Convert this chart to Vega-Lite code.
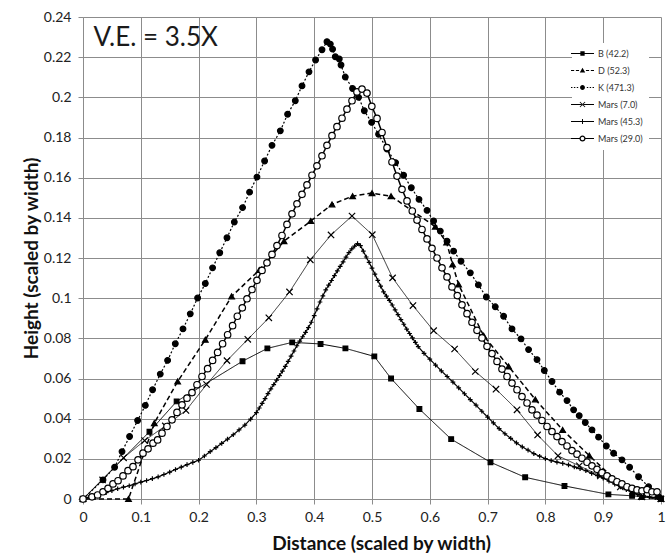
{
 "$schema": "https://vega.github.io/schema/vega-lite/v6.json",
 "width": 578, "height": 482,
 "autosize": {"type": "none"},
 "padding": {"left": 83, "top": 17, "right": 11, "bottom": 60},
 "background": "white",
 "config": {"view": {"stroke": null}, "font": "Lato"},
 "datasets": {
  "note": [{"x": 0.018, "y": 0.2255, "label": "V.E. = 3.5X"}],
  "leg": [{"series": "B (42.2)"}, {"series": "D (52.3)"}, {"series": "K (471.3)"}, {"series": "Mars (7.0)"}, {"series": "Mars (45.3)"}, {"series": "Mars (29.0)"}],
  "pts": [
   {"series":"B (42.2)","x":0,"y":0},{"series":"B (42.2)","x":0.115,"y":0.0335},{"series":"B (42.2)","x":0.162,"y":0.0486},{"series":"B (42.2)","x":0.276,"y":0.0686},{"series":"B (42.2)","x":0.319,"y":0.075},{"series":"B (42.2)","x":0.362,"y":0.078},{"series":"B (42.2)","x":0.411,"y":0.0772},{"series":"B (42.2)","x":0.454,"y":0.075},{"series":"B (42.2)","x":0.504,"y":0.071},{"series":"B (42.2)","x":0.533,"y":0.06},{"series":"B (42.2)","x":0.582,"y":0.0448},{"series":"B (42.2)","x":0.637,"y":0.0298},{"series":"B (42.2)","x":0.705,"y":0.0183},{"series":"B (42.2)","x":0.765,"y":0.0108},{"series":"B (42.2)","x":0.833,"y":0.0065},{"series":"B (42.2)","x":0.909,"y":0.0023},{"series":"B (42.2)","x":0.95,"y":0.0016},{"series":"B (42.2)","x":1,"y":0.0003},
   {"series":"D (52.3)","x":0,"y":0},{"series":"D (52.3)","x":0.0787,"y":0},{"series":"D (52.3)","x":0.1234,"y":0.0378},{"series":"D (52.3)","x":0.1637,"y":0.0585},{"series":"D (52.3)","x":0.2116,"y":0.0793},{"series":"D (52.3)","x":0.2571,"y":0.1009},{"series":"D (52.3)","x":0.305,"y":0.114},{"series":"D (52.3)","x":0.3478,"y":0.1284},{"series":"D (52.3)","x":0.3941,"y":0.1384},{"series":"D (52.3)","x":0.4308,"y":0.1467},{"series":"D (52.3)","x":0.4664,"y":0.1508},{"series":"D (52.3)","x":0.5,"y":0.1523},{"series":"D (52.3)","x":0.5329,"y":0.1508},{"series":"D (52.3)","x":0.6095,"y":0.1356},{"series":"D (52.3)","x":0.6291,"y":0.1277},{"series":"D (52.3)","x":0.6394,"y":0.1168},{"series":"D (52.3)","x":0.6498,"y":0.1068},{"series":"D (52.3)","x":0.6931,"y":0.0813},{"series":"D (52.3)","x":0.7363,"y":0.066},{"series":"D (52.3)","x":0.7825,"y":0.0496},{"series":"D (52.3)","x":0.8298,"y":0.0344},{"series":"D (52.3)","x":0.876,"y":0.0216},{"series":"D (52.3)","x":0.923,"y":0.009},{"series":"D (52.3)","x":0.966,"y":0.001},{"series":"D (52.3)","x":1,"y":0},
   {"series":"K (471.3)","x":0,"y":0},{"series":"K (471.3)","x":0.0346,"y":0.0095},{"series":"K (471.3)","x":0.0547,"y":0.0158},{"series":"K (471.3)","x":0.0675,"y":0.0236},{"series":"K (471.3)","x":0.0806,"y":0.0311},{"series":"K (471.3)","x":0.0945,"y":0.0391},{"series":"K (471.3)","x":0.1078,"y":0.0466},{"series":"K (471.3)","x":0.1204,"y":0.0544},{"series":"K (471.3)","x":0.1337,"y":0.0622},{"series":"K (471.3)","x":0.1464,"y":0.069},{"series":"K (471.3)","x":0.1597,"y":0.0773},{"series":"K (471.3)","x":0.173,"y":0.0847},{"series":"K (471.3)","x":0.1856,"y":0.0922},{"series":"K (471.3)","x":0.1983,"y":0.1001},{"series":"K (471.3)","x":0.2116,"y":0.1073},{"series":"K (471.3)","x":0.2242,"y":0.1151},{"series":"K (471.3)","x":0.2366,"y":0.1226},{"series":"K (471.3)","x":0.2491,"y":0.1301},{"series":"K (471.3)","x":0.2618,"y":0.1379},{"series":"K (471.3)","x":0.2761,"y":0.1451},{"series":"K (471.3)","x":0.2882,"y":0.1528},{"series":"K (471.3)","x":0.301,"y":0.1603},{"series":"K (471.3)","x":0.3142,"y":0.1683},{"series":"K (471.3)","x":0.327,"y":0.1761},{"series":"K (471.3)","x":0.3414,"y":0.1833},{"series":"K (471.3)","x":0.354,"y":0.1916},{"series":"K (471.3)","x":0.3673,"y":0.1983},{"series":"K (471.3)","x":0.3789,"y":0.2057},{"series":"K (471.3)","x":0.391,"y":0.2127},{"series":"K (471.3)","x":0.4024,"y":0.2186},{"series":"K (471.3)","x":0.4135,"y":0.2237},{"series":"K (471.3)","x":0.4221,"y":0.2277},{"series":"K (471.3)","x":0.4279,"y":0.2265},{"series":"K (471.3)","x":0.4318,"y":0.224},{"series":"K (471.3)","x":0.4365,"y":0.2202},{"series":"K (471.3)","x":0.4434,"y":0.2191},{"series":"K (471.3)","x":0.4464,"y":0.2161},{"series":"K (471.3)","x":0.4538,"y":0.2101},{"series":"K (471.3)","x":0.4664,"y":0.2044},{"series":"K (471.3)","x":0.4768,"y":0.2},{"series":"K (471.3)","x":0.4867,"y":0.1933},{"series":"K (471.3)","x":0.4993,"y":0.1875},{"series":"K (471.3)","x":0.5114,"y":0.1816},{"series":"K (471.3)","x":0.526,"y":0.1742},{"series":"K (471.3)","x":0.5408,"y":0.1675},{"series":"K (471.3)","x":0.5547,"y":0.1612},{"series":"K (471.3)","x":0.568,"y":0.155},{"series":"K (471.3)","x":0.5813,"y":0.1492},{"series":"K (471.3)","x":0.5952,"y":0.1437},{"series":"K (471.3)","x":0.6066,"y":0.1384},{"series":"K (471.3)","x":0.6182,"y":0.1334},{"series":"K (471.3)","x":0.6298,"y":0.1284},{"series":"K (471.3)","x":0.6412,"y":0.1234},{"series":"K (471.3)","x":0.654,"y":0.1184},{"series":"K (471.3)","x":0.6701,"y":0.1126},{"series":"K (471.3)","x":0.684,"y":0.1066},{"series":"K (471.3)","x":0.6978,"y":0.1006},{"series":"K (471.3)","x":0.7133,"y":0.0957},{"series":"K (471.3)","x":0.7277,"y":0.091},{"series":"K (471.3)","x":0.7422,"y":0.0847},{"series":"K (471.3)","x":0.7578,"y":0.0797},{"series":"K (471.3)","x":0.7709,"y":0.0744},{"series":"K (471.3)","x":0.7855,"y":0.0694},{"series":"K (471.3)","x":0.7981,"y":0.064},{"series":"K (471.3)","x":0.8114,"y":0.0585},{"series":"K (471.3)","x":0.8246,"y":0.0532},{"series":"K (471.3)","x":0.8374,"y":0.049},{"series":"K (471.3)","x":0.8488,"y":0.0444},{"series":"K (471.3)","x":0.8585,"y":0.0415},{"series":"K (471.3)","x":0.869,"y":0.0381},{"series":"K (471.3)","x":0.8806,"y":0.0344},{"series":"K (471.3)","x":0.892,"y":0.0308},{"series":"K (471.3)","x":0.9054,"y":0.0264},{"series":"K (471.3)","x":0.918,"y":0.0228},{"series":"K (471.3)","x":0.9325,"y":0.0195},{"series":"K (471.3)","x":0.9457,"y":0.0158},{"series":"K (471.3)","x":0.9612,"y":0.0111},{"series":"K (471.3)","x":0.9785,"y":0.0061},{"series":"K (471.3)","x":0.9958,"y":0.0011},
   {"series":"Mars (7.0)","x":0,"y":0},{"series":"Mars (7.0)","x":0.0339,"y":0.0095},{"series":"Mars (7.0)","x":0.0702,"y":0.0205},{"series":"Mars (7.0)","x":0.1066,"y":0.0291},{"series":"Mars (7.0)","x":0.1424,"y":0.0364},{"series":"Mars (7.0)","x":0.1782,"y":0.0441},{"series":"Mars (7.0)","x":0.2138,"y":0.057},{"series":"Mars (7.0)","x":0.2491,"y":0.0689},{"series":"Mars (7.0)","x":0.2851,"y":0.0795},{"series":"Mars (7.0)","x":0.3215,"y":0.0902},{"series":"Mars (7.0)","x":0.3573,"y":0.1031},{"series":"Mars (7.0)","x":0.3933,"y":0.1191},{"series":"Mars (7.0)","x":0.4291,"y":0.1315},{"series":"Mars (7.0)","x":0.4654,"y":0.1409},{"series":"Mars (7.0)","x":0.5005,"y":0.1316},{"series":"Mars (7.0)","x":0.5356,"y":0.1101},{"series":"Mars (7.0)","x":0.5709,"y":0.0963},{"series":"Mars (7.0)","x":0.6066,"y":0.0838},{"series":"Mars (7.0)","x":0.6429,"y":0.0747},{"series":"Mars (7.0)","x":0.6787,"y":0.0635},{"series":"Mars (7.0)","x":0.7145,"y":0.0547},{"series":"Mars (7.0)","x":0.7509,"y":0.0444},{"series":"Mars (7.0)","x":0.7865,"y":0.0319},{"series":"Mars (7.0)","x":0.8218,"y":0.0215},{"series":"Mars (7.0)","x":0.8587,"y":0.0165},{"series":"Mars (7.0)","x":0.895,"y":0.0115},{"series":"Mars (7.0)","x":0.9296,"y":0.006},{"series":"Mars (7.0)","x":0.9671,"y":0.0011},{"series":"Mars (7.0)","x":1,"y":0},
   {"series":"Mars (45.3)","x":0,"y":0},{"series":"Mars (45.3)","x":0.01,"y":0.0008},{"series":"Mars (45.3)","x":0.02,"y":0.0015},{"series":"Mars (45.3)","x":0.03,"y":0.0023},{"series":"Mars (45.3)","x":0.04,"y":0.0032},{"series":"Mars (45.3)","x":0.05,"y":0.0042},{"series":"Mars (45.3)","x":0.06,"y":0.0051},{"series":"Mars (45.3)","x":0.07,"y":0.0059},{"series":"Mars (45.3)","x":0.08,"y":0.0066},{"series":"Mars (45.3)","x":0.09,"y":0.0075},{"series":"Mars (45.3)","x":0.1,"y":0.0084},{"series":"Mars (45.3)","x":0.11,"y":0.0092},{"series":"Mars (45.3)","x":0.12,"y":0.0101},{"series":"Mars (45.3)","x":0.13,"y":0.011},{"series":"Mars (45.3)","x":0.14,"y":0.0122},{"series":"Mars (45.3)","x":0.15,"y":0.0134},{"series":"Mars (45.3)","x":0.16,"y":0.0147},{"series":"Mars (45.3)","x":0.17,"y":0.0159},{"series":"Mars (45.3)","x":0.18,"y":0.0171},{"series":"Mars (45.3)","x":0.19,"y":0.0182},{"series":"Mars (45.3)","x":0.2,"y":0.0193},{"series":"Mars (45.3)","x":0.21,"y":0.0214},{"series":"Mars (45.3)","x":0.22,"y":0.0236},{"series":"Mars (45.3)","x":0.23,"y":0.0256},{"series":"Mars (45.3)","x":0.24,"y":0.0277},{"series":"Mars (45.3)","x":0.25,"y":0.0298},{"series":"Mars (45.3)","x":0.26,"y":0.032},{"series":"Mars (45.3)","x":0.27,"y":0.0344},{"series":"Mars (45.3)","x":0.28,"y":0.0368},{"series":"Mars (45.3)","x":0.29,"y":0.0398},{"series":"Mars (45.3)","x":0.3,"y":0.043},{"series":"Mars (45.3)","x":0.305,"y":0.0453},{"series":"Mars (45.3)","x":0.31,"y":0.0476},{"series":"Mars (45.3)","x":0.315,"y":0.05},{"series":"Mars (45.3)","x":0.32,"y":0.0525},{"series":"Mars (45.3)","x":0.325,"y":0.0548},{"series":"Mars (45.3)","x":0.33,"y":0.057},{"series":"Mars (45.3)","x":0.335,"y":0.0592},{"series":"Mars (45.3)","x":0.34,"y":0.0614},{"series":"Mars (45.3)","x":0.345,"y":0.0637},{"series":"Mars (45.3)","x":0.35,"y":0.066},{"series":"Mars (45.3)","x":0.355,"y":0.0685},{"series":"Mars (45.3)","x":0.36,"y":0.0711},{"series":"Mars (45.3)","x":0.365,"y":0.0737},{"series":"Mars (45.3)","x":0.37,"y":0.0763},{"series":"Mars (45.3)","x":0.375,"y":0.0786},{"series":"Mars (45.3)","x":0.38,"y":0.0808},{"series":"Mars (45.3)","x":0.385,"y":0.083},{"series":"Mars (45.3)","x":0.39,"y":0.0853},{"series":"Mars (45.3)","x":0.395,"y":0.088},{"series":"Mars (45.3)","x":0.4,"y":0.0913},{"series":"Mars (45.3)","x":0.405,"y":0.0947},{"series":"Mars (45.3)","x":0.41,"y":0.0981},{"series":"Mars (45.3)","x":0.415,"y":0.1011},{"series":"Mars (45.3)","x":0.42,"y":0.1041},{"series":"Mars (45.3)","x":0.425,"y":0.1065},{"series":"Mars (45.3)","x":0.43,"y":0.1088},{"series":"Mars (45.3)","x":0.435,"y":0.1112},{"series":"Mars (45.3)","x":0.44,"y":0.1136},{"series":"Mars (45.3)","x":0.445,"y":0.1158},{"series":"Mars (45.3)","x":0.45,"y":0.1181},{"series":"Mars (45.3)","x":0.455,"y":0.1204},{"series":"Mars (45.3)","x":0.46,"y":0.1227},{"series":"Mars (45.3)","x":0.465,"y":0.1245},{"series":"Mars (45.3)","x":0.47,"y":0.1259},{"series":"Mars (45.3)","x":0.475,"y":0.1272},{"series":"Mars (45.3)","x":0.48,"y":0.1262},{"series":"Mars (45.3)","x":0.485,"y":0.1234},{"series":"Mars (45.3)","x":0.49,"y":0.1205},{"series":"Mars (45.3)","x":0.495,"y":0.1178},{"series":"Mars (45.3)","x":0.5,"y":0.115},{"series":"Mars (45.3)","x":0.505,"y":0.112},{"series":"Mars (45.3)","x":0.51,"y":0.1089},{"series":"Mars (45.3)","x":0.515,"y":0.106},{"series":"Mars (45.3)","x":0.52,"y":0.1031},{"series":"Mars (45.3)","x":0.525,"y":0.101},{"series":"Mars (45.3)","x":0.53,"y":0.0989},{"series":"Mars (45.3)","x":0.535,"y":0.0966},{"series":"Mars (45.3)","x":0.54,"y":0.0942},{"series":"Mars (45.3)","x":0.545,"y":0.0918},{"series":"Mars (45.3)","x":0.55,"y":0.0893},{"series":"Mars (45.3)","x":0.555,"y":0.087},{"series":"Mars (45.3)","x":0.56,"y":0.0846},{"series":"Mars (45.3)","x":0.565,"y":0.0824},{"series":"Mars (45.3)","x":0.57,"y":0.0802},{"series":"Mars (45.3)","x":0.575,"y":0.078},{"series":"Mars (45.3)","x":0.58,"y":0.0759},{"series":"Mars (45.3)","x":0.59,"y":0.0725},{"series":"Mars (45.3)","x":0.6,"y":0.0696},{"series":"Mars (45.3)","x":0.61,"y":0.0667},{"series":"Mars (45.3)","x":0.62,"y":0.0638},{"series":"Mars (45.3)","x":0.63,"y":0.061},{"series":"Mars (45.3)","x":0.64,"y":0.0582},{"series":"Mars (45.3)","x":0.65,"y":0.0553},{"series":"Mars (45.3)","x":0.66,"y":0.0524},{"series":"Mars (45.3)","x":0.67,"y":0.0495},{"series":"Mars (45.3)","x":0.68,"y":0.0467},{"series":"Mars (45.3)","x":0.69,"y":0.0437},{"series":"Mars (45.3)","x":0.7,"y":0.0408},{"series":"Mars (45.3)","x":0.71,"y":0.0379},{"series":"Mars (45.3)","x":0.72,"y":0.035},{"series":"Mars (45.3)","x":0.73,"y":0.0325},{"series":"Mars (45.3)","x":0.74,"y":0.0302},{"series":"Mars (45.3)","x":0.75,"y":0.0279},{"series":"Mars (45.3)","x":0.76,"y":0.026},{"series":"Mars (45.3)","x":0.77,"y":0.0243},{"series":"Mars (45.3)","x":0.78,"y":0.0226},{"series":"Mars (45.3)","x":0.79,"y":0.0213},{"series":"Mars (45.3)","x":0.8,"y":0.0201},{"series":"Mars (45.3)","x":0.81,"y":0.0191},{"series":"Mars (45.3)","x":0.82,"y":0.0184},{"series":"Mars (45.3)","x":0.83,"y":0.0177},{"series":"Mars (45.3)","x":0.84,"y":0.017},{"series":"Mars (45.3)","x":0.85,"y":0.016},{"series":"Mars (45.3)","x":0.86,"y":0.0151},{"series":"Mars (45.3)","x":0.87,"y":0.0141},{"series":"Mars (45.3)","x":0.88,"y":0.0128},{"series":"Mars (45.3)","x":0.89,"y":0.0116},{"series":"Mars (45.3)","x":0.9,"y":0.0104},{"series":"Mars (45.3)","x":0.91,"y":0.0089},{"series":"Mars (45.3)","x":0.92,"y":0.0074},{"series":"Mars (45.3)","x":0.93,"y":0.006},{"series":"Mars (45.3)","x":0.94,"y":0.0046},{"series":"Mars (45.3)","x":0.95,"y":0.0033},{"series":"Mars (45.3)","x":0.96,"y":0.0022},{"series":"Mars (45.3)","x":0.97,"y":0.0016},{"series":"Mars (45.3)","x":0.98,"y":0.0011},{"series":"Mars (45.3)","x":0.99,"y":0.0007},{"series":"Mars (45.3)","x":1,"y":0.0002},
   {"series":"Mars (29.0)","x":0,"y":0},{"series":"Mars (29.0)","x":0.0156,"y":0.0011},{"series":"Mars (29.0)","x":0.0253,"y":0.002},{"series":"Mars (29.0)","x":0.0346,"y":0.0036},{"series":"Mars (29.0)","x":0.0433,"y":0.0053},{"series":"Mars (29.0)","x":0.0519,"y":0.0075},{"series":"Mars (29.0)","x":0.0606,"y":0.0091},{"series":"Mars (29.0)","x":0.0692,"y":0.0115},{"series":"Mars (29.0)","x":0.0779,"y":0.0141},{"series":"Mars (29.0)","x":0.0865,"y":0.0161},{"series":"Mars (29.0)","x":0.0952,"y":0.0195},{"series":"Mars (29.0)","x":0.1038,"y":0.0228},{"series":"Mars (29.0)","x":0.1125,"y":0.025},{"series":"Mars (29.0)","x":0.1211,"y":0.0278},{"series":"Mars (29.0)","x":0.1291,"y":0.0294},{"series":"Mars (29.0)","x":0.1367,"y":0.0328},{"series":"Mars (29.0)","x":0.1453,"y":0.0361},{"series":"Mars (29.0)","x":0.154,"y":0.0394},{"series":"Mars (29.0)","x":0.1626,"y":0.0431},{"series":"Mars (29.0)","x":0.1713,"y":0.0469},{"series":"Mars (29.0)","x":0.1799,"y":0.0502},{"series":"Mars (29.0)","x":0.1886,"y":0.053},{"series":"Mars (29.0)","x":0.1972,"y":0.0569},{"series":"Mars (29.0)","x":0.2059,"y":0.061},{"series":"Mars (29.0)","x":0.2156,"y":0.0649},{"series":"Mars (29.0)","x":0.2242,"y":0.069},{"series":"Mars (29.0)","x":0.2329,"y":0.073},{"series":"Mars (29.0)","x":0.2415,"y":0.0773},{"series":"Mars (29.0)","x":0.2502,"y":0.0818},{"series":"Mars (29.0)","x":0.2588,"y":0.0863},{"series":"Mars (29.0)","x":0.267,"y":0.091},{"series":"Mars (29.0)","x":0.2756,"y":0.0952},{"series":"Mars (29.0)","x":0.2837,"y":0.0997},{"series":"Mars (29.0)","x":0.2924,"y":0.1043},{"series":"Mars (29.0)","x":0.301,"y":0.1089},{"series":"Mars (29.0)","x":0.3097,"y":0.1138},{"series":"Mars (29.0)","x":0.3183,"y":0.1176},{"series":"Mars (29.0)","x":0.327,"y":0.1218},{"series":"Mars (29.0)","x":0.3356,"y":0.1262},{"series":"Mars (29.0)","x":0.3443,"y":0.1312},{"series":"Mars (29.0)","x":0.3529,"y":0.1367},{"series":"Mars (29.0)","x":0.3616,"y":0.142},{"series":"Mars (29.0)","x":0.3702,"y":0.147},{"series":"Mars (29.0)","x":0.3789,"y":0.1517},{"series":"Mars (29.0)","x":0.3875,"y":0.1564},{"series":"Mars (29.0)","x":0.3962,"y":0.1612},{"series":"Mars (29.0)","x":0.4048,"y":0.1659},{"series":"Mars (29.0)","x":0.4135,"y":0.1709},{"series":"Mars (29.0)","x":0.4221,"y":0.1761},{"series":"Mars (29.0)","x":0.4308,"y":0.1809},{"series":"Mars (29.0)","x":0.4394,"y":0.1854},{"series":"Mars (29.0)","x":0.4481,"y":0.1896},{"series":"Mars (29.0)","x":0.4567,"y":0.1941},{"series":"Mars (29.0)","x":0.4654,"y":0.1983},{"series":"Mars (29.0)","x":0.474,"y":0.2027},{"series":"Mars (29.0)","x":0.4827,"y":0.2041},{"series":"Mars (29.0)","x":0.4913,"y":0.2021},{"series":"Mars (29.0)","x":0.4997,"y":0.1955},{"series":"Mars (29.0)","x":0.5087,"y":0.1895},{"series":"Mars (29.0)","x":0.5173,"y":0.1825},{"series":"Mars (29.0)","x":0.526,"y":0.175},{"series":"Mars (29.0)","x":0.5346,"y":0.1678},{"series":"Mars (29.0)","x":0.5433,"y":0.1608},{"series":"Mars (29.0)","x":0.5519,"y":0.1542},{"series":"Mars (29.0)","x":0.5606,"y":0.1484},{"series":"Mars (29.0)","x":0.5697,"y":0.1434},{"series":"Mars (29.0)","x":0.5779,"y":0.1389},{"series":"Mars (29.0)","x":0.5865,"y":0.1342},{"series":"Mars (29.0)","x":0.5952,"y":0.1295},{"series":"Mars (29.0)","x":0.6038,"y":0.1248},{"series":"Mars (29.0)","x":0.6125,"y":0.12},{"series":"Mars (29.0)","x":0.6211,"y":0.1151},{"series":"Mars (29.0)","x":0.6298,"y":0.1106},{"series":"Mars (29.0)","x":0.6384,"y":0.1056},{"series":"Mars (29.0)","x":0.6476,"y":0.1013},{"series":"Mars (29.0)","x":0.6557,"y":0.0967},{"series":"Mars (29.0)","x":0.6644,"y":0.0923},{"series":"Mars (29.0)","x":0.673,"y":0.088},{"series":"Mars (29.0)","x":0.6817,"y":0.084},{"series":"Mars (29.0)","x":0.6903,"y":0.0802},{"series":"Mars (29.0)","x":0.699,"y":0.076},{"series":"Mars (29.0)","x":0.7076,"y":0.0724},{"series":"Mars (29.0)","x":0.7163,"y":0.0685},{"series":"Mars (29.0)","x":0.7249,"y":0.0647},{"series":"Mars (29.0)","x":0.7336,"y":0.061},{"series":"Mars (29.0)","x":0.7422,"y":0.0577},{"series":"Mars (29.0)","x":0.7509,"y":0.0544},{"series":"Mars (29.0)","x":0.7595,"y":0.051},{"series":"Mars (29.0)","x":0.7682,"y":0.0478},{"series":"Mars (29.0)","x":0.7768,"y":0.0444},{"series":"Mars (29.0)","x":0.7855,"y":0.0418},{"series":"Mars (29.0)","x":0.7941,"y":0.0391},{"series":"Mars (29.0)","x":0.8028,"y":0.0361},{"series":"Mars (29.0)","x":0.8114,"y":0.0336},{"series":"Mars (29.0)","x":0.8201,"y":0.0311},{"series":"Mars (29.0)","x":0.8287,"y":0.0286},{"series":"Mars (29.0)","x":0.8374,"y":0.0264},{"series":"Mars (29.0)","x":0.846,"y":0.0241},{"series":"Mars (29.0)","x":0.8547,"y":0.0223},{"series":"Mars (29.0)","x":0.8633,"y":0.0203},{"series":"Mars (29.0)","x":0.872,"y":0.0183},{"series":"Mars (29.0)","x":0.8806,"y":0.0165},{"series":"Mars (29.0)","x":0.8893,"y":0.0148},{"series":"Mars (29.0)","x":0.8979,"y":0.0131},{"series":"Mars (29.0)","x":0.9066,"y":0.0115},{"series":"Mars (29.0)","x":0.9152,"y":0.01},{"series":"Mars (29.0)","x":0.9239,"y":0.0086},{"series":"Mars (29.0)","x":0.9325,"y":0.0075},{"series":"Mars (29.0)","x":0.9412,"y":0.0061},{"series":"Mars (29.0)","x":0.9498,"y":0.0053},{"series":"Mars (29.0)","x":0.9585,"y":0.0045},{"series":"Mars (29.0)","x":0.9671,"y":0.0041},{"series":"Mars (29.0)","x":0.9758,"y":0.0047},{"series":"Mars (29.0)","x":0.9844,"y":0.0036},{"series":"Mars (29.0)","x":0.9931,"y":0.0036}
  ]
 },
 "layer": [
  {
   "data": {"name": "pts"},
   "mark": {"type": "line", "stroke": "black"},
   "encoding": {
    "x": {"field": "x", "type": "quantitative", "title": "Distance (scaled by width)",
      "scale": {"domain": [0, 1], "nice": false, "zero": true},
      "axis": {"values": [0, 0.1, 0.2, 0.3, 0.4, 0.5, 0.6, 0.7, 0.8, 0.9, 1], "format": "~g", "labelFlush": false,
        "grid": true, "gridColor": "#8c8c8c", "gridWidth": 1, "domainColor": "#8c8c8c", "tickColor": "#8c8c8c", "tickSize": 5,
        "labelFont": "Lato", "labelFontSize": 14, "labelColor": "#222", "labelPadding": 6,
        "titleFont": "Lato", "titleFontSize": 19, "titleFontWeight": "bold", "titleColor": "#111",
        "titleX": 298, "titleY": 44, "titleBaseline": "middle", "titleAlign": "center"}},
    "y": {"field": "y", "type": "quantitative", "title": "Height (scaled by width)",
      "scale": {"domain": [0, 0.24], "nice": false},
      "axis": {"values": [0, 0.02, 0.04, 0.06, 0.08, 0.1, 0.12, 0.14, 0.16, 0.18, 0.2, 0.22, 0.24], "format": "~g", "labelFlush": false,
        "grid": true, "gridColor": "#8c8c8c", "gridWidth": 1, "domainColor": "#8c8c8c", "tickColor": "#8c8c8c", "tickSize": 5,
        "labelFont": "Lato", "labelFontSize": 14, "labelColor": "#222", "labelPadding": 7,
        "titleFont": "Lato", "titleFontSize": 19, "titleFontWeight": "bold", "titleColor": "#111",
        "titleX": -52, "titleY": 241, "titleAngle": 270, "titleBaseline": "middle", "titleAlign": "center"}},
    "detail": {"field": "series", "type": "nominal"},
    "strokeDash": {"field": "series", "type": "nominal", "legend": null,
      "scale": {"domain": ["B (42.2)", "D (52.3)", "K (471.3)", "Mars (7.0)", "Mars (45.3)", "Mars (29.0)"],
        "range": [[1, 0], [5, 3], [2, 2], [1, 0], [1, 0], [1, 0]]}},
    "strokeWidth": {"field": "series", "type": "nominal", "legend": null,
      "scale": {"type": "ordinal", "domain": ["B (42.2)", "D (52.3)", "K (471.3)", "Mars (7.0)", "Mars (45.3)", "Mars (29.0)"],
        "range": [1, 1.5, 1.2, 0.8, 1.2, 1.5]}}
   }
  },
  {
   "data": {"name": "pts"},
   "mark": {"type": "point", "filled": true, "stroke": "black", "strokeWidth": 1.2, "opacity": 1},
   "encoding": {
    "x": {"field": "x", "type": "quantitative", "title": "Distance (scaled by width)"},
    "y": {"field": "y", "type": "quantitative", "title": "Height (scaled by width)"},
    "shape": {"field": "series", "type": "nominal", "legend": null,
      "scale": {"domain": ["B (42.2)", "D (52.3)", "K (471.3)", "Mars (7.0)", "Mars (45.3)", "Mars (29.0)"],
        "range": ["square", "triangle-up", "circle", "M-1,-1L1,1M-1,1L1,-1", "M-1,0L1,0M0,-1L0,1", "circle"]}},
    "fill": {"field": "series", "type": "nominal", "legend": null,
      "scale": {"domain": ["B (42.2)", "D (52.3)", "K (471.3)", "Mars (7.0)", "Mars (45.3)", "Mars (29.0)"],
        "range": ["black", "black", "black", "black", "black", "white"]}},
    "size": {"field": "series", "type": "nominal", "legend": null,
      "scale": {"type": "ordinal", "domain": ["B (42.2)", "D (52.3)", "K (471.3)", "Mars (7.0)", "Mars (45.3)", "Mars (29.0)"],
        "range": [22, 32, 32, 40, 22, 42]}}
   }
  },
  {
   "data": {"name": "leg"},
   "mark": {"type": "point", "filled": true, "color": "black", "opacity": 0, "size": 33},
   "encoding": {
    "shape": {"field": "series", "type": "nominal",
      "scale": {"domain": ["B (42.2)", "D (52.3)", "K (471.3)", "Mars (7.0)", "Mars (45.3)", "Mars (29.0)"],
        "range": [
         "M-4,-0.17H-0.7V0.17H-4Z M0.7,-0.17H4V0.17H0.7Z M-0.75,-0.75H0.75V0.75H-0.75Z",
         "M-4,-0.2H-2.9V0.2H-4Z M-2.3,-0.2H-1.2V0.2H-2.3Z M1.2,-0.2H2.3V0.2H1.2Z M2.9,-0.2H4V0.2H2.9Z M0,-1L0.95,0.7H-0.95Z",
         "M-4,-0.17H-3.5V0.17H-4Z M-3,-0.17H-2.5V0.17H-3Z M-2,-0.17H-1.5V0.17H-2Z M1.5,-0.17H2V0.17H1.5Z M2.5,-0.17H3V0.17H2.5Z M3.5,-0.17H4V0.17H3.5Z M-0.85,0A0.85,0.85,0,1,0,0.85,0A0.85,0.85,0,1,0,-0.85,0Z",
         "M-4,-0.15H4V0.15H-4Z M-1,-0.8L-0.8,-1L1,0.8L0.8,1Z M-1,0.8L-0.8,1L1,-0.8L0.8,-1Z",
         "M-4,-0.17H4V0.17H-4Z M-0.17,-0.9H0.17V0.9H-0.17Z",
         "M-4,-0.2H-1V0.2H-4Z M1,-0.2H4V0.2H1Z M-1.05,0A1.05,1.05,0,1,1,1.05,0A1.05,1.05,0,1,1,-1.05,0Z M-0.6,0A0.6,0.6,0,1,0,0.6,0A0.6,0.6,0,1,0,-0.6,0Z"]},
      "legend": {"title": null, "orient": "none", "legendX": 489, "legendY": 26, "fillColor": "white", "padding": 6,
        "symbolSize": 33, "symbolOpacity": 1, "symbolFillColor": "black", "symbolStrokeColor": "transparent", "symbolStrokeWidth": 0,
        "labelFont": "Lato", "labelFontSize": 9, "labelColor": "#333", "labelOffset": 11, "rowPadding": 7}}
   }
  },
  {
   "data": {"name": "note"},
   "mark": {"type": "text", "align": "left", "baseline": "alphabetic", "fontSize": 26, "font": "Lato", "color": "#1a1a1a"},
   "encoding": {
    "x": {"field": "x", "type": "quantitative", "title": "Distance (scaled by width)"},
    "y": {"field": "y", "type": "quantitative", "title": "Height (scaled by width)"},
    "text": {"field": "label", "type": "nominal"}
   }
  }
 ],
 "resolve": {"scale": {"shape": "independent", "fill": "independent", "size": "independent", "strokeDash": "independent", "strokeWidth": "independent"}}
}
